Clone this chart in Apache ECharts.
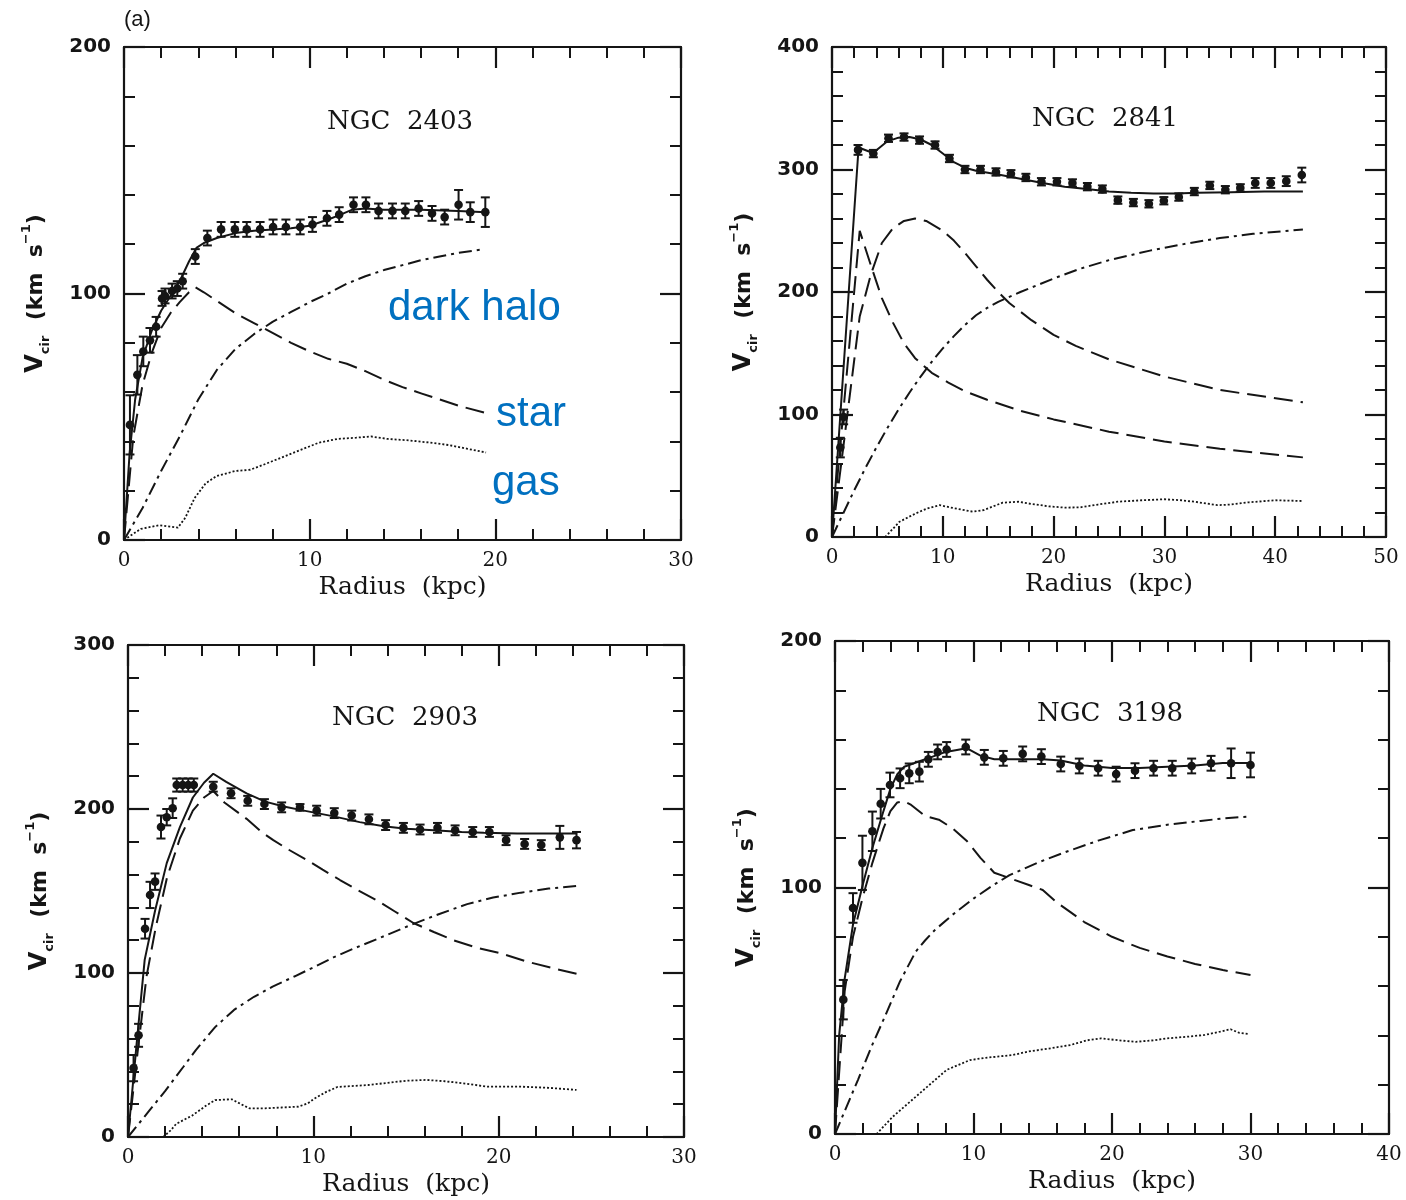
<!DOCTYPE html>
<html><head><meta charset="utf-8">
<script src="https://cdn.jsdelivr.net/npm/echarts@6/dist/echarts.min.js"></script>
<style>html,body{margin:0;padding:0;background:#fff}#c{width:1406px;height:1200px}</style>
</head><body><div id="c"></div>
<script>
// ---------- panel meta ----------
const galaxies = ['NGC  2403', 'NGC  2841', 'NGC  2903', 'NGC  3198'];
const xMax = [30, 50, 30, 40];
const yMax = [200, 400, 300, 200];
const xStep = 10, yStep = 100;
const annotations = ['dark halo', 'star', 'gas'];

// ---------- NGC 2403 ----------  [radius kpc, Vcir, error]
const obs2403 = [[0.32,46.7,12],[0.72,67,8],[1.04,76.5,6],[1.4,81,5],[1.73,86.5,4],[2.05,98,3],[2.21,99,3],[2.59,101,3],[2.87,102,3],[3.16,105,3],[3.84,115,3],[4.49,122.5,3],[5.23,126,3],[5.97,126,3],[6.61,126,3],[7.33,126,3],[8.03,127,3],[8.72,127,3],[9.49,127,3],[10.15,128,3],[10.93,130.5,3],[11.59,132,3],[12.36,136,3],[13.03,136,3],[13.71,133.5,3],[14.46,133.5,3],[15.15,133.5,3],[15.87,134.5,3],[16.59,132.5,3],[17.27,131,3],[18.02,136,6],[18.65,133,4],[19.46,133,6]];
const fit2403 = [[0,0],[0.3,35],[0.6,57],[1,74],[1.5,85],[2,93],[2.5,99],[3,105],[3.5,113],[3.9,118.5],[4.3,120.5],[5,122.5],[6,124.5],[7,125.5],[8,126],[9,126.5],[10,127.5],[11,130],[11.5,131.5],[12.3,134],[13,134.5],[14,134],[16,134],[18,133.5],[19.5,133]];
const star2403 = [[0,0],[0.5,42],[1,63],[1.5,76],[2,86],[2.5,92],[3,96.5],[3.5,100.5],[3.85,102.5],[4.3,100.5],[5,97],[6,92],[7,88],[8,84],[9,80],[10,76.5],[11,73.5],[12,71.5],[13,68.5],[14,65],[15,62],[16,59.5],[17,57],[18,54.5],[19.5,51.5]];
const halo2403 = [[0,0],[1,13],[2,28],[3,42],[4,57],[5,69],[6,77.5],[7,83.5],[8,88.5],[9,92.5],[10,96.5],[11,100],[12,104],[13,107],[14,109.5],[15,111.5],[16,113.5],[17,115],[18,116.5],[19.4,118]];
const gas2403 = [[0,0],[0.9,4.5],[1.9,6],[2.9,5],[3.3,9],[3.8,17],[4.4,23],[5,26],[6,28],[6.8,28.5],[7.5,30.5],[8.5,33.5],[9.5,36.5],[10.5,39.5],[11.5,41],[12.5,41.5],[13.3,42],[14.2,41],[15.2,40.5],[16.5,39.5],[17.5,38.5],[18.5,37],[19.5,35.5]];

// ---------- NGC 2841 ----------
const obs2841 = [[0.75,73,8],[1.05,98,6],[2.35,316,4],[3.73,313,3],[5.1,325.5,3],[6.5,326.5,3],[7.9,324,3],[9.3,320,3],[10.6,309,3],[12.0,300,3],[13.4,300,3],[14.8,298,3],[16.15,296.5,3],[17.5,293.5,3],[18.9,290,3],[20.3,290,3],[21.7,289,3],[23.05,286,3],[24.4,284,3],[25.8,275,3],[27.2,273,3],[28.6,272,3],[29.95,274.5,3],[31.3,277.5,3],[32.7,282,3],[34.1,287,3],[35.5,283.5,3],[36.85,285,3],[38.2,289,4],[39.6,289,4],[41.0,290.5,4],[42.4,295.5,6]];
const fit2841 = [[0,0],[2.4,318],[3.7,313.5],[5,323],[6,326],[7,326.5],[8,324.5],[9,320],[10,313],[11,306],[12,301.5],[13,299],[15,296],[17,292.5],[19,289],[21,286],[23,284],[25,282],[27,281],[29,280.5],[31,280.5],[33,281],[36,281.5],[39,282],[42.5,282]];
const bulge2841 = [[0,0],[2.5,250],[3.5,222],[4.5,195],[5.5,175],[6.5,158],[7.5,146],[9,134],[10.5,126],[12,119],[14,112],[17,103],[20,96],[25,86],[30,78],[35,72],[42.5,65]];
const disk2841 = [[0,0],[2.5,180],[3.5,214],[4.5,240],[5.5,252],[6.5,258],[7.5,260],[8.5,258],[10,250],[11,242],[12,232],[13,221],[14,210],[15,200],[16,191],[18,177],[20,165],[22,156],[25,145],[30,131],[35,120],[42.5,110]];
const halo2841 = [[0,0],[1,19],[2,38],[3,56],[4,73],[5,89],[6,104],[7,118],[8,131],[9,143],[10,154],[11,164],[12,173],[13,181],[14,187],[15,192],[17,200],[20,211],[22.4,219],[25,226],[28.8,234],[32,239.5],[35,244],[38,247.5],[42.5,251]];
const gas2841 = [[4.8,0],[6.1,12.5],[7.5,19],[8.5,23],[9.7,26],[11,23.5],[12.7,20.7],[13.7,22],[15.4,28],[16.8,28.8],[18,27],[19.6,25],[21,24],[22.4,24.2],[24,26.5],[25.8,28.8],[28,30],[30,30.8],[31.5,30],[32.7,28.8],[34.8,26],[36,26.5],[37.6,28.3],[40,30],[42.4,29.4]];

// ---------- NGC 2903 ----------
const obs2903 = [[0.3,42,8],[0.57,62,7],[0.92,127,6],[1.19,147.6,8],[1.46,155.7,5],[1.78,189,7],[2.09,195,5],[2.41,200.5,6],[2.63,214.6,4],[2.95,214.6,4],[3.25,214.6,4],[3.55,214.6,4],[4.6,213.6,3],[5.56,209.6,3],[6.46,205,3],[7.36,203,3],[8.29,201,3],[9.28,201,2],[10.18,199,3],[11.13,197.5,3],[12.07,196,3],[13.0,193.7,3],[13.9,190.2,3],[14.86,188.5,3],[15.76,187.5,3],[16.7,188.5,3],[17.65,187,3],[18.6,186,3],[19.5,186,3],[20.4,181,3],[21.4,178.7,3],[22.3,178,3],[23.3,182.7,7],[24.2,181,5]];
const fit2903 = [[0,0],[0.45,55],[0.9,108],[1.46,138],[2.09,167],[2.8,189],[3.5,207],[4.1,216],[4.6,221.5],[5.3,216.5],[6.4,209.5],[7.4,204.5],[8.4,201.5],[9.5,199],[11.1,195.5],[12.5,192],[13.8,189.5],[15,188],[16.5,187],[18,186],[19.2,185.5],[21,185],[24.2,185]];
const star2903 = [[0,0],[0.5,50],[1,98],[1.5,128],[2.1,158],[2.8,182],[3.5,199],[4.1,207],[4.6,211],[5.2,204],[6.4,194],[7.2,186],[7.84,181],[8.7,175],[9.64,169],[10.5,163],[11.44,156.7],[12.4,150.5],[13.4,144.5],[14.4,137.5],[15.4,130.5],[16.5,125],[17.55,120],[18.8,115.5],[20.1,112],[21.5,107],[22.9,103],[24.2,99.5]];
const halo2903 = [[0,0],[1.18,16.5],[2,28],[3,43],[3.66,53],[4.7,67],[5.72,77.5],[6.8,85.5],[7.8,91.7],[9,98],[10.07,103.8],[11.08,109.5],[12.2,115],[13.5,121],[15.3,129.5],[16.8,136],[18.3,142],[19.7,146],[21.2,149],[22.7,151.5],[24.2,153]];
const gas2903 = [[1.9,0],[2.3,4],[2.6,8],[3.45,13],[4.2,19],[4.7,22.5],[5.6,23],[6.1,20],[6.55,17.5],[7.4,17.5],[8.3,18],[9.2,18.5],[9.7,20.5],[10.07,23.5],[10.7,27.5],[11.3,30.5],[12.95,31.7],[14,33],[15,34.3],[16.1,34.8],[17.1,34],[18.1,32.7],[19.4,30.7],[21.2,30.7],[22.7,30],[24.2,28.7]];

// ---------- NGC 3198 ----------
const obs3198 = [[0.6,54.5,8],[1.3,91.7,6],[1.98,110,11],[2.7,122.8,8],[3.3,134,6],[3.97,141.6,5],[4.7,144.3,4],[5.36,146.3,4],[6.09,147,4],[6.74,152,3],[7.41,155,3],[8.06,156,3],[9.44,157,3],[10.78,152.8,3],[12.15,152.4,3],[13.55,154.2,3],[14.9,153.1,3],[16.3,150.1,3],[17.64,149.3,3],[19.0,148.4,3],[20.3,146,3],[21.66,147.4,3],[23.0,148.4,3],[24.35,148.4,3],[25.75,149.3,3],[27.15,150.4,3],[28.6,150.4,6],[30.0,149.7,5]];
const fit3198 = [[0,0],[0.3,40],[0.7,63],[1.3,85],[2,101],[2.7,116],[3.5,131],[4,140],[4.5,146],[5,149],[6,151],[7,153],[8,155],[9,156],[9.5,156.5],[10.5,153.5],[11.5,152],[13,152],[15,152],[16.3,151.5],[18,149.5],[20,148.5],[22,148.5],[24,149],[26,149.5],[28,150.5],[30,150.5]];
const star3198 = [[0,0],[0.7,58],[1.3,80],[2,96],[2.7,110],[3.5,124],[4,131],[4.5,134.5],[5,135],[5.5,133.5],[6.5,129],[7.5,127.5],[8.5,124],[9.5,119],[10.5,112],[11.5,106],[13,103],[14,101],[15,99],[16,94],[17,90],[18,86],[19,83],[20,80],[22,75.5],[24,72],[26,69],[28,66.5],[30,64.5]];
const halo3198 = [[0,0],[1.66,22],[2.6,35],[3.6,47.6],[4.7,62],[5.83,74],[6.5,78.5],[7.22,82.8],[8.5,89],[10,95.5],[11.3,100.5],[12.6,105],[14.6,110],[16.7,114.5],[19,119],[21.5,123.3],[24,125.5],[26.4,127],[28,128],[29.7,128.7]];
const gas3198 = [[3,0],[4.17,7],[5.4,13],[6.67,19.2],[8.06,26],[9.74,30],[11,31],[12.8,32],[14,33.5],[15.6,34.8],[17,36.1],[18.2,38],[19.2,38.8],[20.5,38],[21.7,37.4],[23,38],[24,38.8],[25.5,39.5],[26.7,40.2],[27.8,41.5],[28.56,42.5],[29.2,41],[29.8,40.6]];

const panels = [
  {obs: obs2403, fit: fit2403, stars: [star2403], halo: halo2403, gas: gas2403},
  {obs: obs2841, fit: fit2841, stars: [bulge2841, disk2841], halo: halo2841, gas: gas2841},
  {obs: obs2903, fit: fit2903, stars: [star2903], halo: halo2903, gas: gas2903},
  {obs: obs3198, fit: fit3198, stars: [star3198], halo: halo3198, gas: gas3198}
];

// ---------- layout ----------
const grids = [
  {left: 124, top: 47, width: 557, height: 493},
  {left: 832, top: 47, width: 554, height: 490},
  {left: 128, top: 645, width: 556, height: 492},
  {left: 835, top: 641, width: 554, height: 493}
];
const titlePos = [[400, 122], [1105, 119], [405, 718], [1110, 714]];
const INK = '#151515';

const tickCommon = {
  axisLine: {show: true, onZero: false, lineStyle: {color: INK, width: 2.2}},
  axisTick: {show: true, inside: true, length: 21, lineStyle: {color: INK, width: 2.2}},
  minorTick: {show: true, splitNumber: 5, length: 11, lineStyle: {color: INK, width: 2}},
  splitLine: {show: false}
};

const xAxes = [], yAxes = [];
grids.forEach((g, i) => {
  xAxes.push(Object.assign({
    type: 'value', gridIndex: i, position: 'bottom', min: 0, max: xMax[i], interval: xStep,
    name: 'Radius  (kpc)', nameLocation: 'middle', nameGap: 35,
    nameTextStyle: {fontFamily: 'DejaVu Serif', fontSize: 25, color: INK},
    axisLabel: {show: true, margin: 11, fontFamily: 'DejaVu Serif', fontSize: 20, color: INK}
  }, tickCommon));
  xAxes.push(Object.assign({
    type: 'value', gridIndex: i, position: 'top', min: 0, max: xMax[i], interval: xStep,
    axisLabel: {show: false}
  }, tickCommon));
  yAxes.push(Object.assign({
    type: 'value', gridIndex: i, position: 'left', min: 0, max: yMax[i], interval: yStep,
    name: '{v|V}{s|cir}{m|  (km  s}{p|−1}{m|)}', nameLocation: 'middle', nameGap: 72,
    nameTextStyle: {
      color: INK, fontFamily: 'DejaVu Sans', fontWeight: 'bold', fontSize: 22,
      rich: {
        v: {fontFamily: 'DejaVu Sans', fontWeight: 'bold', fontSize: 24, lineHeight: 32, color: INK},
        m: {fontFamily: 'DejaVu Sans', fontWeight: 'bold', fontSize: 22, lineHeight: 32, color: INK},
        s: {fontFamily: 'DejaVu Sans', fontWeight: 'bold', fontSize: 13, lineHeight: 13, verticalAlign: 'bottom', color: INK},
        p: {fontFamily: 'DejaVu Sans', fontWeight: 'bold', fontSize: 13, lineHeight: 13, verticalAlign: 'top', color: INK}
      }
    },
    axisLabel: {show: true, margin: 13, fontFamily: 'DejaVu Sans', fontWeight: 'bold', fontSize: 20, color: INK}
  }, tickCommon));
  yAxes.push(Object.assign({
    type: 'value', gridIndex: i, position: 'right', min: 0, max: yMax[i], interval: yStep,
    axisLabel: {show: false}
  }, tickCommon));
});

function lineSeries(data, i, dash, width) {
  return {
    type: 'line', xAxisIndex: 2 * i, yAxisIndex: 2 * i, data: data,
    showSymbol: false, symbol: 'none', smooth: false, silent: true,
    lineStyle: {color: INK, width: width, type: dash, cap: 'butt'}, z: 3
  };
}

function errRender(params, api) {
  const x = api.value(0), y = api.value(1), e = api.value(2);
  const p = api.coord([x, y]);
  const lo = api.coord([x, y - e]);
  const hi = api.coord([x, y + e]);
  const w = 4.5;
  const st = {stroke: INK, lineWidth: 2};
  return {
    type: 'group', children: [
      {type: 'line', shape: {x1: p[0], y1: lo[1], x2: p[0], y2: hi[1]}, style: st},
      {type: 'line', shape: {x1: p[0] - w, y1: lo[1], x2: p[0] + w, y2: lo[1]}, style: st},
      {type: 'line', shape: {x1: p[0] - w, y1: hi[1], x2: p[0] + w, y2: hi[1]}, style: st},
      {type: 'circle', shape: {cx: p[0], cy: p[1], r: 4.3}, style: {fill: INK}}
    ]
  };
}

const series = [];
panels.forEach((pn, i) => {
  series.push(lineSeries(pn.fit, i, 'solid', 2));
  pn.stars.forEach(s => series.push(lineSeries(s, i, [19, 8], 2)));
  series.push(lineSeries(pn.halo, i, [13, 5, 3, 5], 2));
  series.push(lineSeries(pn.gas, i, [2, 2], 1.8));
  series.push({
    type: 'custom', xAxisIndex: 2 * i, yAxisIndex: 2 * i, data: pn.obs,
    renderItem: errRender, encode: {x: 0, y: 1}, z: 5, silent: true
  });
});

const graphic = [];
galaxies.forEach((name, i) => {
  graphic.push({
    type: 'text', x: titlePos[i][0], y: titlePos[i][1], silent: true,
    style: {text: name, font: '26px "DejaVu Serif"', fill: INK,
      textAlign: 'center', align: 'center', textVerticalAlign: 'middle', verticalAlign: 'middle'}
  });
});
graphic.push({
  type: 'text', x: 124, y: 20, silent: true,
  style: {text: '(a)', font: '22px "Liberation Sans"', fill: INK,
    textAlign: 'left', align: 'left', textVerticalAlign: 'middle', verticalAlign: 'middle'}
});
const annoPos = [[388, 308], [496, 414], [492, 483]];
annotations.forEach((t, k) => {
  graphic.push({
    type: 'text', x: annoPos[k][0], y: annoPos[k][1], silent: true,
    style: {text: t, font: '42px "Liberation Sans"', fill: '#0070C0',
      textAlign: 'left', align: 'left', textVerticalAlign: 'middle', verticalAlign: 'middle'}
  });
});

const chart = echarts.init(document.getElementById('c'), null, {renderer: 'canvas'});
chart.setOption({
  animation: false,
  backgroundColor: '#ffffff',
  grid: grids,
  xAxis: xAxes,
  yAxis: yAxes,
  series: series,
  graphic: graphic
});
</script>
</body></html>
